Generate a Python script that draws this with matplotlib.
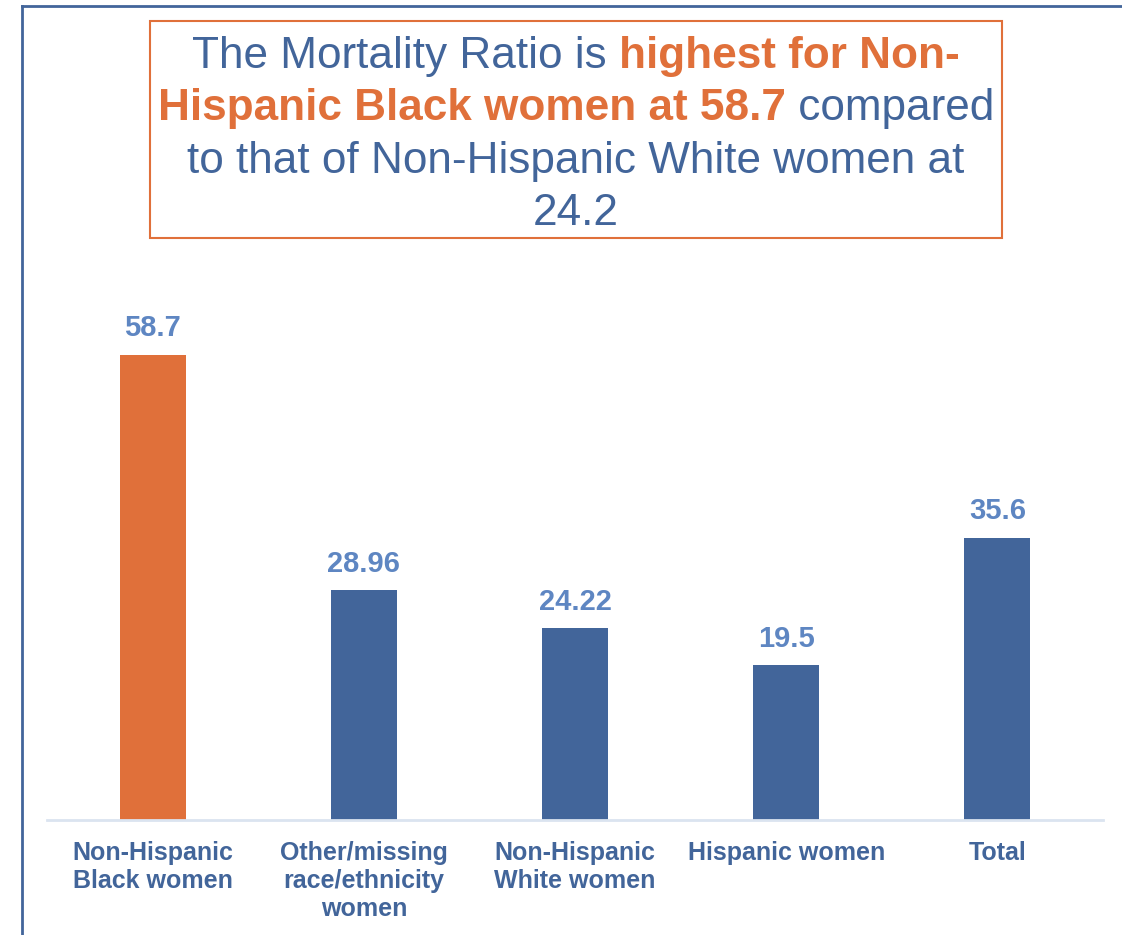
import matplotlib
matplotlib.use("Agg")
import matplotlib.pyplot as plt
from matplotlib.patches import Rectangle
from matplotlib.lines import Line2D

plt.rcParams['font.family'] = ['Liberation Sans', 'DejaVu Sans']

categories = ['Non-Hispanic\nBlack women', 'Other/missing\nrace/ethnicity\nwomen',
              'Non-Hispanic\nWhite women', 'Hispanic women', 'Total']
values = [58.7, 28.96, 24.22, 19.5, 35.6]
value_labels = ['58.7', '28.96', '24.22', '19.5', '35.6']

# title segments per line: (text, highlighted)
title_lines = [
    [('The Mortality Ratio is ', False), ('highest for Non-', True)],
    [('Hispanic Black women at 58.7', True), (' compared', False)],
    [('to that of Non-Hispanic White women at', False)],
    [('24.2', False)],
]

BLUE = '#42659a'
ORANGE = '#e0703a'
LABEL_BLUE = '#5e86c2'
W, H = 1122, 935

fig = plt.figure(figsize=(W / 100, H / 100), dpi=100)

def fx(px):
    return px / W

def fy(py):
    return 1 - py / H

# outer frame (left and top edges)
fig.add_artist(Line2D([fx(22), fx(22)], [fy(6), 0], color=BLUE, lw=2, transform=fig.transFigure))
fig.add_artist(Line2D([fx(22), 1], [fy(6), fy(6)], color=BLUE, lw=2, transform=fig.transFigure))

# title box
fig.add_artist(Rectangle((fx(150), fy(238)), fx(1002) - fx(150), fy(21) - fy(238),
                         fill=False, edgecolor=ORANGE, lw=1.5, transform=fig.transFigure))

# bars
ax = fig.add_axes([fx(47), fy(820), fx(1103) - fx(47), fy(300) - fy(820)])
colors = [ORANGE] + [BLUE] * 4
x = range(len(categories))
bars = ax.bar(x, values, width=0.313, color=colors)
ax.set_xlim(-0.5, 4.5)
ax.set_ylim(0, 65.6)
for b, lab in zip(bars, value_labels):
    ax.annotate(lab, (b.get_x() + b.get_width() / 2, b.get_height()),
                xytext=(0, 9), textcoords='offset points', ha='center', va='bottom',
                fontsize=21, fontweight='bold', color=LABEL_BLUE)
ax.set_xticks(list(x))
ax.set_xticklabels(categories, fontsize=18, fontweight='bold', color=BLUE, linespacing=1.22)
ax.tick_params(axis='x', length=0, pad=15)
ax.set_yticks([])
for s in ['top', 'right', 'left']:
    ax.spines[s].set_visible(False)
ax.spines['bottom'].set_color('#dbe4f0')
ax.spines['bottom'].set_linewidth(2)

# title text with mixed colours, centred line by line
renderer = fig.canvas.get_renderer()
cx = 576
baselines = [68, 120, 173, 225]
for segs, base in zip(title_lines, baselines):
    texts = []
    for s, hi in segs:
        t = fig.text(0, fy(base), s, fontsize=31.8, va='baseline', ha='left',
                     color=ORANGE if hi else BLUE, fontweight='bold' if hi else 'normal')
        texts.append(t)
    widths = [t.get_window_extent(renderer).width for t in texts]
    start = cx - sum(widths) / 2
    for t, w in zip(texts, widths):
        t.set_x(fx(start))
        start += w

fig.savefig('out.png', dpi=100)
